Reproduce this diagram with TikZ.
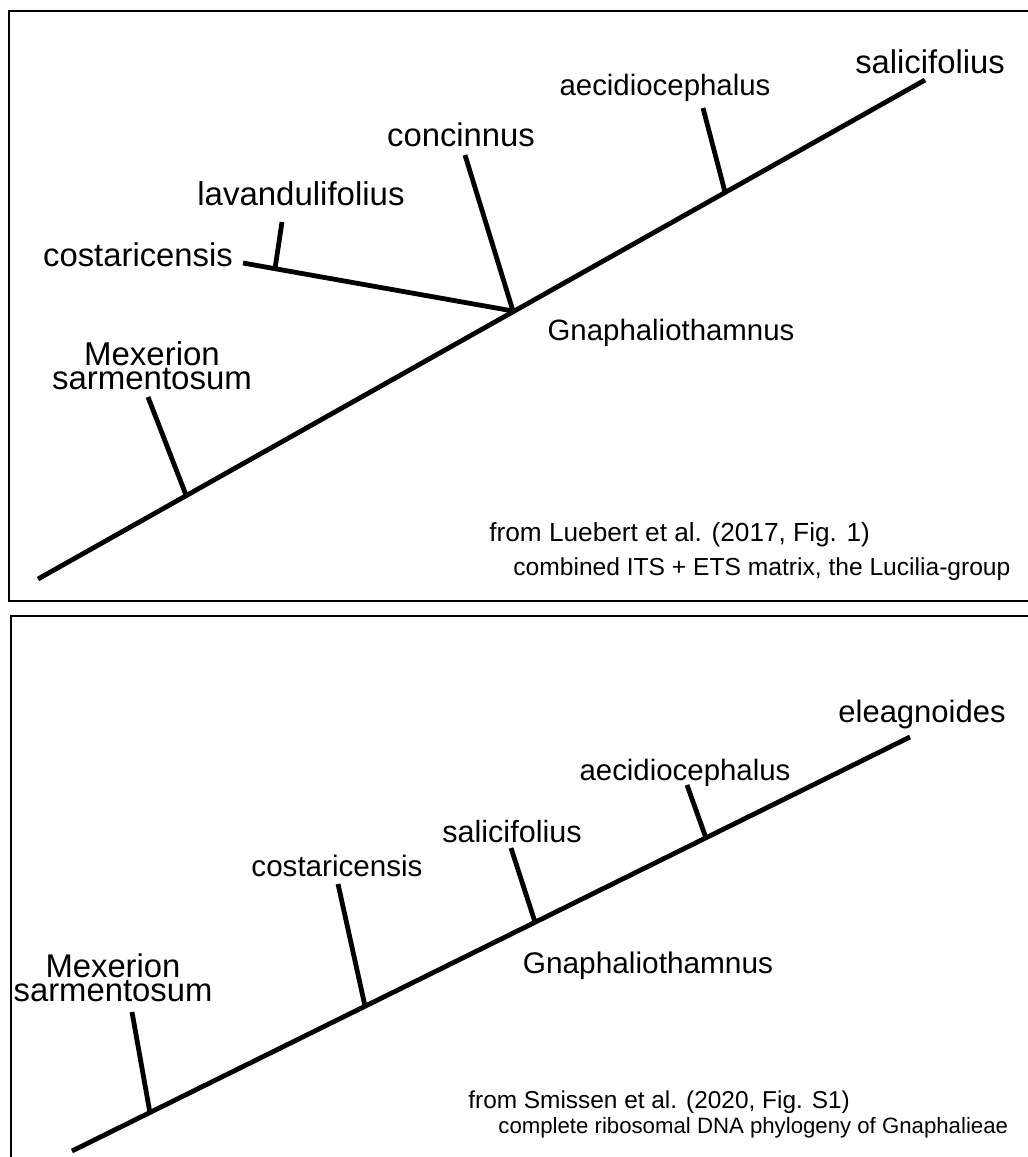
\documentclass[tikz,border=0pt]{standalone}
\usepackage{fontspec}
\setmainfont{Liberation Sans}
\begin{document}
\begin{tikzpicture}[x=0.5pt,y=-0.5pt,
  branch/.style={line width=2.4pt},
  panelframe/.style={line width=1.3pt},
  lbl/.style={inner sep=0pt, font=\fontsize{#1}{11.6}\selectfont, anchor=base},
  lbl/.default=15.5,
  srcnote/.style={inner sep=0pt, font=\fontsize{#1}{14}\selectfont, anchor=base west},
  subnote/.style={inner sep=0pt, font=\fontsize{#1}{13}\selectfont, anchor=base west}]
\useasboundingbox (0,0) rectangle (1028,1157);
\fill[white] (0,0) rectangle (1028,1157);

% panel frames (cut off at the right / bottom edge)
\draw[panelframe] (1028,11) -- (9,11) -- (9,601) -- (1028,601);
\draw[panelframe] (1028,616) -- (11,616) -- (11,1157);

% ---------------- top panel ----------------
\coordinate (A0) at (38,579);
\coordinate (A1) at (925,80);
\coordinate (Amex) at (186,495);
\coordinate (AmexT) at (148,397);
\coordinate (Ag) at (513,311);
\coordinate (AconT) at (465,155);
\coordinate (AcosT) at (243,263);
\coordinate (Alav) at (275,268.7);
\coordinate (AlavT) at (282,222);
\coordinate (Aaec) at (725,192);
\coordinate (AaecT) at (703,108);

\draw[branch] (A0) -- (A1);
\draw[branch] (Amex) -- (AmexT);
\draw[branch] (Ag) -- (AconT);
\draw[branch] (Ag) -- (AcosT);
\draw[branch] (Alav) -- (AlavT);
\draw[branch] (Aaec) -- (AaecT);

\node[lbl=16.4] (Lsal) at (930,73) {salicifolius};
\node[lbl=14.7] (Laec) at (665,95) {aecidiocephalus};
\node[lbl=16.4] (Lcon) at (461,146) {concinnus};
\node[lbl=16.5] (Llav) at (301,205) {lavandulifolius};
\node[lbl=16.4] (Lcos) at (138,266) {costaricensis};
\node[lbl=14.7] (Lgna) at (671,340) {Gnaphaliothamnus};
\node[lbl=16.5, align=center] (Lmex) at (152,389) {Mexerion\\sarmentosum};
\node[srcnote=13.1] (Nsrc1) at (489,541) {from Luebert et al. (2017, Fig. 1)};
\node[subnote=12.3] (Nsub1) at (513,575) {combined ITS + ETS matrix, the Lucilia-group};

% ---------------- bottom panel ----------------
\coordinate (B0) at (72,1151);
\coordinate (B1) at (910,737);
\coordinate (Bmex) at (150,1113);
\coordinate (BmexT) at (132,1012);
\coordinate (Bcos) at (365,1006);
\coordinate (BcosT) at (338,884);
\coordinate (Bsal) at (535,922);
\coordinate (BsalT) at (511,848);
\coordinate (Baec) at (706,838);
\coordinate (BaecT) at (687,785);

\draw[branch] (B0) -- (B1);
\draw[branch] (Bmex) -- (BmexT);
\draw[branch] (Bcos) -- (BcosT);
\draw[branch] (Bsal) -- (BsalT);
\draw[branch] (Baec) -- (BaecT);

\node[lbl=15.5] (Mele) at (922,722) {eleagnoides};
\node[lbl=14.7] (Maec) at (685,780) {aecidiocephalus};
\node[lbl=15.3] (Msal) at (512,842) {salicifolius};
\node[lbl=14.8] (Mcos) at (337,876) {costaricensis};
\node[lbl=14.9] (Mgna) at (648,973) {Gnaphaliothamnus};
\node[lbl=16.4, align=center] (Mmex) at (113,1001) {Mexerion\\sarmentosum};
\node[srcnote=12.2] (Nsrc2) at (468,1108) {from Smissen et al. (2020, Fig. S1)};
\node[subnote=11.1] (Nsub2) at (498,1133) {complete ribosomal DNA phylogeny of Gnaphalieae};
\end{tikzpicture}
\end{document}
